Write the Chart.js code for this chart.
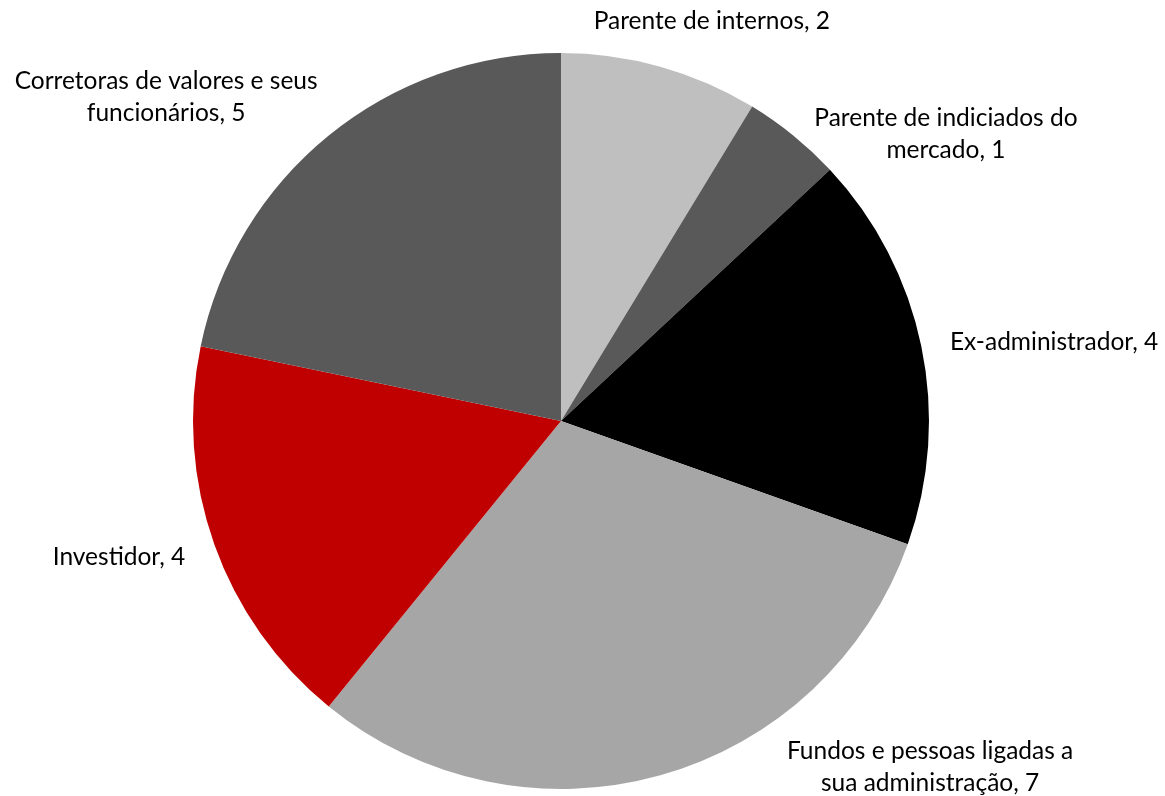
<!DOCTYPE html>
<html>
<head>
<meta charset="utf-8">
<script src="https://cdn.jsdelivr.net/npm/chart.js@4.4.1/dist/chart.umd.min.js"></script>
<style>
  html, body { margin: 0; padding: 0; background: #fff; }
  #wrap { width: 1165px; height: 796px; }
</style>
</head>
<body>
<div id="wrap"><canvas id="pie"></canvas></div>
<script>
const categories = [
  ['Parente de internos, 2'],
  ['Parente de indiciados do', 'mercado, 1'],
  ['Ex-administrador, 4'],
  ['Fundos e pessoas ligadas a', 'sua administração, 7'],
  ['Investidor, 4'],
  ['Corretoras de valores e seus', 'funcionários, 5']
];
const values = [2, 1, 4, 7, 4, 5];
const colors = ['#bfbfbf', '#595959', '#000000', '#a6a6a6', '#c00000', '#595959'];

// label anchors, relative to pie centre in units of the radius
const labelPos = [
  [0.410, -1.087],
  [1.046, -0.780],
  [1.340, -0.214],
  [1.003, 0.940],
  [-1.201, 0.370],
  [-1.073, -0.881]
];

const outsideLabels = {
  id: 'outsideLabels',
  afterDatasetsDraw(chart) {
    const ctx = chart.ctx;
    const arc = chart.getDatasetMeta(0).data[0];
    const cx = arc.x, cy = arc.y, r = arc.outerRadius;
    ctx.save();
    ctx.font = '24.5px Lato, "Open Sans", sans-serif';
    ctx.fillStyle = '#000';
    ctx.textAlign = 'center';
    ctx.textBaseline = 'middle';
    const lh = 32;
    categories.forEach((lines, i) => {
      const x = cx + labelPos[i][0] * r;
      const y = cy + labelPos[i][1] * r;
      const y0 = y - (lines.length - 1) * lh / 2;
      lines.forEach((t, j) => ctx.fillText(t, x, y0 + j * lh));
    });
    ctx.restore();
  }
};

new Chart(document.getElementById('pie'), {
  type: 'pie',
  data: {
    labels: categories.map(l => l.join(' ')),
    datasets: [{
      data: values,
      backgroundColor: colors,
      borderWidth: 0
    }]
  },
  options: {
    responsive: true,
    maintainAspectRatio: false,
    animation: false,
    layout: { padding: { left: 193, right: 236, top: 53, bottom: 7 } },
    plugins: {
      legend: { display: false },
      tooltip: { enabled: false }
    }
  },
  plugins: [outsideLabels]
});
</script>
</body>
</html>
